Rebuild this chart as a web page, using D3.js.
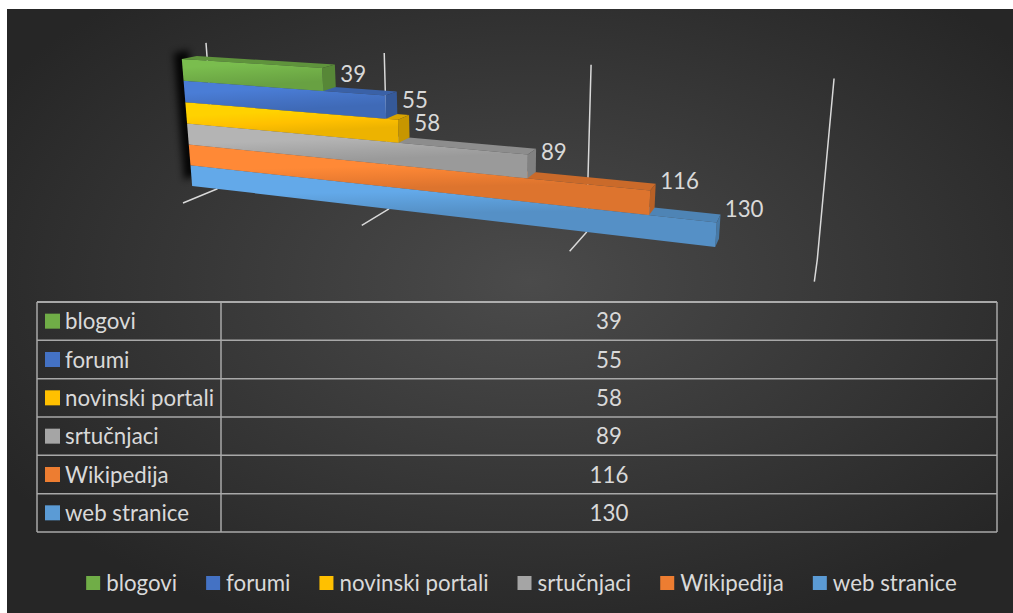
<!DOCTYPE html>
<html>
<head>
<meta charset="utf-8">
<script src="https://cdn.jsdelivr.net/npm/d3@7"></script>
<style>
    body { margin: 0; background: #fff; }
    text { font-family: Lato, "Open Sans", sans-serif; fill: #d9d9d9; }
</style>
</head>
<body>
<div id="chart"></div>
<script>
const categories = ["blogovi", "forumi", "novinski portali", "srtučnjaci", "Wikipedija", "web stranice"];
const values = [39, 55, 58, 89, 116, 130];
const colors = ["#70AD47", "#4472C4", "#FFC000", "#A5A5A5", "#ED7D31", "#5B9BD5"];
const valueTicks = [0, 50, 100, 150];

(function () {

    const width = 1013, height = 613;
    const fontSize = 22.3;
    const rows = categories.map((c, i) => ({name: c, value: values[i], color: colors[i], i: i}));

    const svg = d3.select("#chart").append("svg").attr("width", width).attr("height", height);
    const defs = svg.append("defs");

    const bg = defs.append("radialGradient").attr("id", "bg").attr("cx", "52%").attr("cy", "45%").attr("r", "62%");
    bg.append("stop").attr("offset", "0%").attr("stop-color", "#4b4b4b");
    bg.append("stop").attr("offset", "100%").attr("stop-color", "#262626");
    defs.append("filter").attr("id", "blur").attr("x", "-50%").attr("y", "-50%").attr("width", "200%").attr("height", "200%")
        .append("feGaussianBlur").attr("stdDeviation", 3.5);

    svg.append("rect").attr("x", 7).attr("y", 9).attr("width", width - 7).attr("height", height - 9).attr("fill", "url(#bg)");

    // 3d projection: value axis, up axis, depth axis -> three vanishing points
    const origin = [183, 203], vpValue = [-2192, -93], vpUp = [488, 3812], vpDepth = [862, -77];
    const kValue = -0.21, kUp = -0.0408, kDepth = 0.0526;
    const x = d3.scaleLinear().domain([0, 150]).range([0, 1]);
    const y = d3.scaleBand().domain(categories).range([0.927, 0.0885]);
    const zFront = 0.29, zBack = 0.71;

    function project(v, h, d) {
        const X = x(v);
        const w = 1 + kValue * X + kUp * h + kDepth * d;
        return [
            (kValue * X * vpValue[0] + kUp * h * vpUp[0] + kDepth * d * vpDepth[0] + origin[0]) / w,
            (kValue * X * vpValue[1] + kUp * h * vpUp[1] + kDepth * d * vpDepth[1] + origin[1]) / w
        ];
    }
    const poly = pts => "M" + pts.map(p => p.join(",")).join("L") + "Z";
    const line = pts => "M" + pts.map(p => p.join(",")).join("L");

    // gridlines: floor + back wall
    svg.selectAll(".grid").data(valueTicks).enter().append("path")
        .attr("class", "grid")
        .attr("d", t => line([project(t, 0, 0), project(t, 0, 1), project(t, 1, 1)]))
        .attr("fill", "none").attr("stroke", "#d9d9d9").attr("stroke-width", 1.5);

    // shadow at the left end
    const yTop = y(categories[0]) + y.bandwidth(), yBot = y(categories[categories.length - 1]);
    svg.append("path")
        .attr("d", poly([project(0, yBot, zFront), project(0, yTop, zFront), project(0, yTop, zBack), project(0, yBot, zBack)]))
        .attr("transform", "translate(-8,-6)")
        .attr("fill", "#000").attr("opacity", 0.9).attr("filter", "url(#blur)");

    // bars, bottom one first
    rows.forEach(d => {
        const c = d3.color(d.color);
        const p1 = project(d.value / 2, y(d.name) + y.bandwidth(), zFront), p2 = project(d.value / 2, y(d.name), zFront);
        const g = defs.append("linearGradient").attr("id", "front" + d.i).attr("gradientUnits", "userSpaceOnUse")
            .attr("x1", p1[0]).attr("y1", p1[1]).attr("x2", p2[0]).attr("y2", p2[1]);
        g.append("stop").attr("offset", "0%").attr("stop-color", c.brighter(0.25));
        g.append("stop").attr("offset", "55%").attr("stop-color", c);
        g.append("stop").attr("offset", "100%").attr("stop-color", c.darker(0.2));
    });

    const bar = svg.selectAll(".bar").data(rows.slice().reverse()).enter().append("g").attr("class", "bar");
    bar.append("path")
        .attr("d", d => {
            const t = y(d.name) + y.bandwidth();
            return poly([project(0, t, zFront), project(d.value, t, zFront), project(d.value, t, zBack), project(0, t, zBack)]);
        })
        .attr("fill", d => d3.color(d.color).darker(0.45));
    bar.append("path")
        .attr("d", d => {
            const b = y(d.name), t = b + y.bandwidth();
            return poly([project(d.value, b, zFront), project(d.value, t, zFront), project(d.value, t, zBack), project(d.value, b, zBack)]);
        })
        .attr("fill", d => d3.color(d.color).darker(0.7));
    bar.append("path")
        .attr("d", d => {
            const b = y(d.name), t = b + y.bandwidth();
            return poly([project(0, b, zFront), project(d.value, b, zFront), project(d.value, t, zFront), project(0, t, zFront)]);
        })
        .attr("fill", d => "url(#front" + d.i + ")");

    // data labels
    const labelLift = d3.scalePow().exponent(2).domain([0, 150]).range([0, 24]);
    svg.selectAll(".label").data(rows).enter().append("text")
        .attr("class", "label")
        .attr("x", d => project(d.value, y(d.name) + y.bandwidth() / 2, zBack)[0] + 5)
        .attr("y", d => project(d.value, y(d.name) + y.bandwidth() / 2, zBack)[1] - labelLift(d.value))
        .attr("dy", "0.36em")
        .attr("font-size", fontSize)
        .text(d => d.value);

    // data table
    const tx0 = 37, tx1 = 221, tx2 = 997;
    const ty = d3.scaleBand().domain(categories).range([302, 532]);
    const table = svg.append("g");
    table.selectAll(".hl").data(d3.range(categories.length + 1)).enter().append("line")
        .attr("x1", tx0).attr("x2", tx2)
        .attr("y1", i => 302 + i * ty.step()).attr("y2", i => 302 + i * ty.step())
        .attr("stroke", i => i === 0 ? "#d0d0d0" : "#a8a8a8").attr("stroke-width", 1.5);
    [tx0, tx1, tx2].forEach(v => table.append("line").attr("x1", v).attr("x2", v).attr("y1", 302).attr("y2", 532)
        .attr("stroke", "#a8a8a8").attr("stroke-width", 1.5));
    const tr = table.selectAll(".row").data(rows).enter().append("g")
        .attr("transform", d => "translate(0," + (ty(d.name) + ty.bandwidth() / 2) + ")");
    tr.append("rect").attr("x", 45).attr("y", -7.5).attr("width", 15).attr("height", 15).attr("fill", d => d.color);
    tr.append("text").attr("x", 65).attr("dy", "0.36em").attr("font-size", fontSize).text(d => d.name);
    tr.append("text").attr("x", (tx1 + tx2) / 2).attr("dy", "0.36em").attr("text-anchor", "middle")
        .attr("font-size", fontSize).text(d => d.value);

    // legend
    const legend = svg.append("g").attr("transform", "translate(0,583)");
    const items = legend.selectAll(".item").data(rows).enter().append("g");
    items.append("rect").attr("y", -7).attr("width", 14).attr("height", 14).attr("fill", d => d.color);
    items.append("text").attr("x", 20).attr("dy", "0.36em").attr("font-size", fontSize).text(d => d.name);
    let pos = 0;
    const offsets = [];
    items.each(function () {
        offsets.push(pos);
        pos += 20 + this.querySelector("text").getComputedTextLength() + 29;
    });
    const start = 521.5 - (pos - 29) / 2;
    items.attr("transform", (d, i) => "translate(" + (start + offsets[i]) + ",0)");

})();
</script>
</body>
</html>
